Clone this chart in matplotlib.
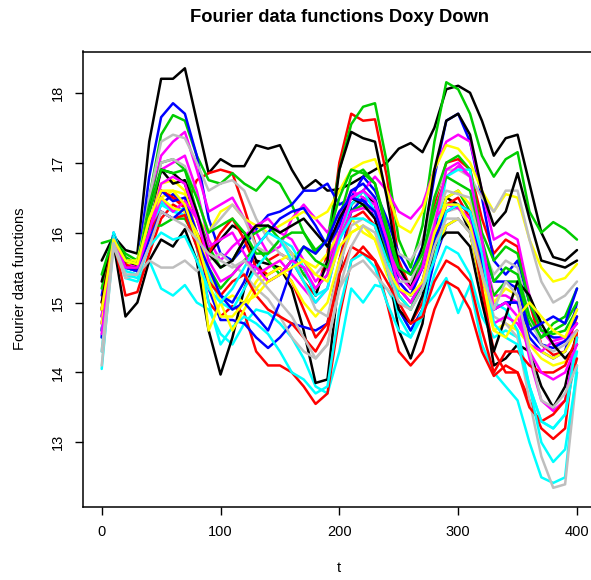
import matplotlib
matplotlib.use("Agg")
import matplotlib.pyplot as plt
import numpy as np

plt.rcParams["font.family"] = ["Liberation Sans", "DejaVu Sans"]

# argument grid (t) and the evaluated curves
t_grid = list(range(0, 401, 10))

palette = ["#000000", "#FF0000", "#00CD00", "#0000FF",
           "#00FFFF", "#FF00FF", "#FFFF00", "#BEBEBE"]

c00 = [15.6, 15.95, 15.75, 15.7, 17.3, 18.2, 18.2, 18.35, 17.6, 16.85, 17.05, 16.95, 16.95, 17.25, 17.2, 17.25, 16.9, 16.62, 16.75, 16.6, 16.62, 16.7, 16.8, 16.9, 17.0, 17.2, 17.28, 17.15, 17.5, 18.05, 18.1, 18.0, 17.6, 17.1, 17.35, 17.4, 16.7, 16.0, 15.65, 15.6, 15.75]
c01 = [14.9, 15.95, 15.5, 15.45, 16.0, 16.6, 16.5, 16.35, 16.75, 16.85, 16.9, 16.85, 16.35, 15.8, 15.6, 15.7, 15.6, 15.3, 15.1, 15.7, 17.0, 17.7, 17.6, 17.62, 16.8, 15.6, 15.2, 15.5, 16.4, 17.0, 17.05, 16.9, 16.2, 15.7, 15.9, 15.8, 15.0, 14.4, 14.25, 14.3, 14.8]
c02 = [15.85, 15.9, 15.7, 15.6, 16.5, 17.4, 17.68, 17.6, 17.1, 16.75, 16.7, 16.85, 16.7, 16.6, 16.8, 16.7, 16.4, 16.0, 15.75, 15.9, 16.9, 17.55, 17.8, 17.85, 17.0, 15.9, 15.5, 16.1, 17.3, 18.15, 18.05, 17.7, 17.1, 16.8, 17.05, 17.15, 16.3, 16.0, 16.15, 16.05, 15.9]
c03 = [15.1, 16.0, 15.55, 15.5, 16.8, 17.65, 17.85, 17.7, 17.1, 16.2, 15.7, 15.6, 15.8, 16.05, 16.25, 16.3, 16.4, 16.6, 16.6, 16.7, 16.4, 16.5, 16.8, 16.6, 16.2, 15.7, 15.4, 15.8, 16.8, 17.6, 17.7, 17.3, 16.5, 15.6, 15.4, 15.6, 15.0, 14.6, 14.5, 14.5, 14.7]
c04 = [14.05, 15.85, 15.35, 15.3, 15.6, 15.2, 15.1, 15.25, 15.0, 14.9, 14.55, 14.4, 14.7, 14.9, 14.85, 14.7, 14.5, 14.2, 13.8, 13.7, 14.3, 15.2, 15.0, 15.25, 15.2, 14.9, 14.6, 14.9, 15.1, 15.35, 14.85, 15.25, 14.4, 14.0, 13.8, 13.6, 13.0, 12.5, 12.42, 12.5, 14.1]
c05 = [14.6, 15.9, 15.55, 15.5, 16.4, 17.1, 17.3, 17.44, 16.9, 16.3, 16.4, 16.5, 16.2, 16.0, 15.7, 15.8, 16.2, 16.4, 16.2, 16.0, 16.3, 16.5, 16.6, 16.8, 16.6, 16.3, 16.2, 16.4, 16.9, 17.3, 17.4, 17.3, 16.6, 15.9, 16.0, 15.9, 15.1, 14.6, 14.4, 14.45, 14.6]
c06 = [14.8, 15.9, 15.6, 15.5, 16.2, 16.5, 16.6, 16.55, 16.2, 16.0, 16.3, 16.4, 16.2, 16.1, 16.0, 16.1, 16.2, 16.3, 16.2, 16.3, 16.6, 16.9, 17.0, 17.05, 16.6, 16.1, 16.0, 16.3, 16.9, 17.25, 17.2, 17.0, 16.6, 16.3, 16.55, 16.5, 15.9, 15.5, 15.3, 15.35, 15.55]
c07 = [14.9, 15.95, 15.6, 15.5, 16.5, 17.3, 17.4, 17.35, 17.0, 16.6, 16.7, 16.75, 16.6, 16.2, 15.9, 15.7, 15.6, 15.5, 15.4, 15.6, 16.0, 16.4, 16.5, 16.4, 16.0, 15.7, 15.6, 15.9, 16.5, 16.9, 16.9, 16.8, 16.5, 16.3, 16.6, 16.6, 15.9, 15.3, 15.0, 15.1, 15.3]
c08 = [14.7, 15.85, 14.8, 15.0, 15.6, 15.9, 15.8, 16.05, 15.6, 14.6, 13.97, 14.5, 15.2, 15.6, 15.55, 15.5, 15.2, 14.6, 13.85, 13.9, 15.4, 16.4, 16.6, 16.4, 15.6, 14.6, 14.2, 14.7, 15.9, 16.5, 16.4, 16.0, 15.2, 14.1, 14.2, 14.4, 14.3, 13.8, 13.5, 13.8, 14.6]
c09 = [14.6, 15.9, 15.1, 15.15, 15.7, 16.2, 16.4, 16.3, 15.8, 15.0, 14.8, 14.95, 14.85, 14.3, 14.1, 14.1, 14.0, 13.8, 13.55, 13.7, 14.8, 15.6, 15.8, 15.6, 15.0, 14.3, 14.1, 14.3, 14.9, 15.3, 15.2, 14.9, 14.3, 13.95, 14.1, 14.0, 13.6, 13.2, 13.05, 13.2, 14.6]
c10 = [15.2, 15.95, 15.65, 15.55, 16.4, 17.0, 17.05, 16.9, 16.3, 15.8, 15.5, 15.6, 15.9, 16.0, 16.1, 15.9, 15.7, 15.4, 15.2, 15.4, 16.2, 16.8, 16.9, 16.7, 16.0, 15.4, 15.2, 15.6, 16.5, 17.0, 17.1, 16.9, 16.0, 15.6, 15.8, 15.7, 15.0, 14.6, 14.55, 14.6, 14.9]
c11 = [14.8, 15.95, 15.5, 15.45, 16.0, 16.4, 16.55, 16.4, 15.9, 15.2, 14.75, 14.75, 14.7, 14.5, 14.35, 14.5, 14.7, 14.65, 14.6, 14.7, 15.6, 16.3, 16.5, 16.2, 15.6, 14.9, 14.6, 14.9, 15.6, 16.1, 16.2, 16.0, 15.3, 14.9, 15.0, 15.0, 14.5, 14.3, 14.2, 14.3, 15.0]
c12 = [14.5, 16.0, 15.45, 15.4, 15.9, 16.45, 16.3, 16.35, 15.8, 15.0, 14.4, 14.65, 14.8, 14.7, 14.55, 14.3, 14.0, 13.9, 13.7, 13.8, 14.9, 15.6, 15.7, 15.5, 15.0, 14.6, 14.5, 14.8, 15.4, 15.8, 15.7, 15.4, 14.8, 14.5, 14.6, 14.5, 13.8, 13.3, 13.2, 13.4, 14.3]
c13 = [14.7, 15.9, 15.6, 15.5, 16.1, 16.9, 17.0, 17.1, 16.6, 15.9, 15.6, 15.8, 15.95, 16.1, 16.2, 16.0, 15.9, 15.6, 15.3, 15.5, 16.2, 16.6, 16.5, 16.4, 15.8, 15.3, 15.1, 15.5, 16.3, 16.8, 16.95, 16.8, 15.8, 15.1, 15.1, 15.0, 14.2, 13.6, 13.45, 13.6, 14.5]
c14 = [14.9, 15.9, 15.6, 15.6, 16.3, 16.7, 16.75, 16.6, 16.0, 14.6, 15.0, 15.1, 15.0, 15.3, 15.5, 15.6, 15.7, 15.6, 15.5, 15.7, 16.0, 16.2, 16.0, 15.9, 15.4, 15.1, 14.9, 15.2, 15.7, 16.1, 16.2, 16.0, 15.2, 14.6, 14.7, 14.6, 14.4, 14.3, 14.2, 14.3, 14.6]
c15 = [14.1, 15.8, 15.35, 15.4, 15.6, 15.5, 15.5, 15.6, 15.45, 15.6, 15.7, 15.55, 15.4, 15.2, 15.05, 14.8, 14.5, 14.3, 14.2, 14.4, 15.2, 15.5, 15.6, 15.4, 15.2, 15.0, 14.9, 15.2, 15.9, 16.3, 16.35, 16.1, 15.5, 14.8, 14.7, 14.5, 13.6, 12.8, 12.35, 12.4, 14.0]
c16 = [15.3, 15.95, 15.6, 15.5, 16.2, 16.9, 16.85, 16.7, 16.2, 15.7, 15.9, 16.1, 16.0, 15.6, 15.3, 15.4, 15.6, 15.5, 15.1, 15.6, 16.9, 17.44, 17.35, 17.3, 16.5, 15.5, 15.2, 15.8, 16.9, 17.6, 17.7, 17.4, 16.6, 16.1, 16.3, 16.85, 16.2, 15.6, 15.55, 15.5, 15.6]
c17 = [15.0, 15.95, 15.55, 15.5, 16.1, 16.6, 16.5, 16.4, 16.0, 15.7, 16.0, 16.2, 15.9, 15.5, 15.4, 15.5, 15.3, 14.9, 14.5, 14.7, 15.6, 16.2, 16.3, 16.1, 15.5, 14.9, 14.7, 15.0, 15.8, 16.4, 16.5, 16.2, 15.2, 14.3, 14.0, 14.0, 13.5, 13.3, 13.4, 13.6, 14.2]
c18 = [14.9, 15.9, 15.5, 15.5, 16.1, 16.1, 16.2, 16.2, 15.9, 15.5, 15.2, 15.4, 15.6, 15.8, 15.6, 15.4, 15.6, 15.8, 15.6, 15.5, 15.9, 16.3, 16.4, 16.3, 15.7, 15.1, 14.9, 15.3, 16.0, 16.5, 16.6, 16.3, 15.6, 15.1, 15.3, 15.3, 14.7, 14.5, 14.7, 14.8, 15.2]
c19 = [14.6, 15.95, 15.5, 15.45, 16.0, 16.6, 16.45, 16.5, 16.0, 15.3, 15.1, 15.0, 15.3, 15.8, 16.0, 16.2, 16.3, 16.35, 16.1, 15.8, 16.1, 16.6, 16.7, 16.5, 15.9, 15.3, 15.1, 15.5, 16.1, 16.4, 16.4, 16.3, 15.8, 15.3, 15.3, 15.2, 14.6, 14.4, 14.35, 14.45, 14.8]
c20 = [14.6, 16.0, 15.5, 15.45, 16.0, 16.4, 16.3, 16.25, 16.0, 15.4, 15.0, 14.9, 15.2, 15.5, 15.7, 15.9, 15.8, 15.5, 15.1, 15.2, 16.0, 16.4, 16.6, 16.3, 15.5, 14.8, 14.5, 14.9, 15.8, 16.8, 16.9, 16.9, 15.6, 15.0, 14.9, 14.6, 13.8, 13.0, 12.72, 12.9, 14.0]
c21 = [14.8, 15.9, 15.55, 15.5, 16.0, 16.5, 16.3, 16.45, 16.2, 15.8, 15.9, 16.0, 15.7, 15.4, 15.5, 15.6, 15.4, 15.2, 15.0, 15.2, 15.9, 16.3, 16.35, 16.3, 15.8, 15.4, 15.2, 15.5, 16.2, 16.4, 16.35, 16.2, 15.4, 14.7, 14.8, 14.7, 14.4, 14.3, 14.45, 14.5, 14.7]
c22 = [14.7, 15.85, 15.55, 15.6, 16.2, 16.5, 16.35, 16.3, 16.0, 15.5, 15.0, 14.6, 14.9, 15.2, 15.4, 15.5, 15.3, 15.0, 14.8, 15.0, 15.6, 16.0, 16.1, 15.9, 15.5, 15.2, 15.0, 15.3, 15.9, 16.5, 16.6, 16.4, 15.6, 15.0, 15.2, 15.1, 14.4, 14.2, 14.1, 14.15, 14.4]
c23 = [14.5, 15.9, 15.5, 15.5, 16.2, 17.0, 17.05, 16.95, 16.5, 16.0, 16.2, 16.4, 16.2, 15.8, 15.7, 15.9, 15.7, 15.3, 14.9, 14.8, 15.5, 16.1, 16.2, 16.1, 15.6, 15.3, 15.3, 15.7, 16.2, 16.6, 16.55, 16.5, 15.8, 15.4, 15.6, 15.5, 14.8, 14.4, 14.3, 14.4, 14.6]
c24 = [15.0, 15.9, 15.5, 15.5, 16.3, 16.9, 16.7, 16.75, 16.3, 15.7, 15.5, 15.6, 15.9, 16.1, 16.1, 16.0, 16.1, 16.2, 16.0, 15.8, 16.2, 16.5, 16.4, 16.2, 15.6, 14.9, 14.7, 15.1, 15.8, 16.0, 16.0, 15.8, 15.0, 14.3, 14.8, 15.3, 15.1, 14.7, 14.4, 14.2, 14.4]
c25 = [14.9, 15.95, 15.55, 15.45, 16.0, 16.3, 16.2, 16.25, 15.8, 15.3, 15.1, 15.3, 15.4, 15.1, 14.9, 14.8, 14.7, 14.5, 14.3, 14.6, 15.4, 15.8, 15.7, 15.6, 15.3, 15.0, 14.7, 14.8, 15.3, 15.6, 15.5, 15.3, 14.6, 14.0, 14.3, 14.3, 14.1, 14.0, 14.0, 14.1, 14.5]
c26 = [15.4, 15.95, 15.6, 15.55, 16.3, 16.9, 16.85, 16.9, 16.5, 16.0, 16.1, 16.2, 16.0, 15.7, 15.7, 15.9, 16.0, 16.0, 15.7, 15.9, 16.5, 16.9, 16.85, 16.7, 16.1, 15.5, 15.4, 15.7, 16.3, 16.8, 16.7, 16.6, 15.9, 15.3, 15.5, 15.4, 14.8, 14.5, 14.6, 14.7, 15.0]
c27 = [14.5, 15.95, 15.5, 15.45, 15.9, 16.3, 16.2, 16.35, 15.9, 15.5, 15.1, 14.9, 15.0, 14.8, 14.6, 15.0, 15.5, 15.8, 15.7, 15.9, 16.3, 16.5, 16.45, 16.3, 15.8, 15.2, 15.0, 15.3, 15.9, 16.3, 16.4, 16.3, 15.6, 14.9, 15.0, 15.0, 14.6, 14.7, 14.8, 14.7, 15.2]
c28 = [14.3, 15.95, 15.4, 15.35, 15.8, 16.0, 15.9, 15.95, 15.6, 15.2, 15.0, 15.2, 15.5, 15.8, 16.0, 15.9, 15.6, 15.3, 15.0, 15.2, 15.9, 16.2, 16.2, 16.1, 15.6, 15.1, 14.9, 15.2, 15.6, 16.3, 16.4, 16.3, 15.7, 14.7, 14.5, 14.4, 13.8, 13.3, 13.2, 13.4, 14.5]
c29 = [14.55, 15.9, 15.5, 15.5, 16.0, 16.7, 16.8, 16.7, 16.2, 15.6, 15.3, 15.4, 15.6, 15.5, 15.3, 15.4, 15.6, 15.5, 15.2, 15.4, 16.0, 16.5, 16.6, 16.45, 15.9, 15.2, 15.0, 15.3, 16.1, 16.9, 17.0, 16.8, 15.9, 14.9, 15.0, 14.8, 14.3, 14.0, 13.9, 14.0, 14.4]
c30 = [14.9, 15.9, 15.6, 15.55, 16.2, 16.6, 16.6, 16.4, 15.9, 15.3, 14.8, 14.8, 15.0, 15.1, 15.3, 15.4, 15.5, 15.6, 15.4, 15.3, 15.8, 16.0, 16.1, 15.9, 15.5, 15.2, 15.1, 15.3, 16.0, 16.4, 16.4, 16.1, 15.4, 14.6, 14.5, 14.8, 15.0, 14.8, 14.6, 14.5, 14.9]
c31 = [14.3, 15.85, 15.4, 15.4, 15.8, 16.3, 16.2, 16.1, 15.9, 15.7, 15.6, 15.5, 15.6, 15.4, 15.2, 15.0, 14.8, 14.5, 14.2, 14.4, 15.2, 15.8, 16.1, 16.0, 15.5, 15.0, 14.9, 15.2, 15.8, 16.2, 16.2, 16.0, 15.4, 14.9, 15.3, 15.1, 14.3, 13.6, 13.5, 13.7, 14.1]

curves = [c00, c01, c02, c03, c04, c05, c06, c07, c08, c09, c10, c11, c12, c13, c14, c15,
          c16, c17, c18, c19, c20, c21, c22, c23, c24, c25, c26, c27, c28, c29, c30, c31]

W, H = 591, 580
fig = plt.figure(figsize=(W / 100, H / 100), dpi=100, facecolor="white")
# the plot box runs slightly past the right edge of the image, as in the original
ax = fig.add_axes([82.7 / W, 1 - 506.7 / H, (596 - 82.7) / W, (506.7 - 51.5) / H])

for i, vals in enumerate(curves):
    ax.plot(t_grid, vals, color=palette[i % len(palette)], linewidth=1.8,
            solid_joinstyle="round", solid_capstyle="round")

ax.set_xlim(-16, 416)
ax.set_ylim(12.08, 18.59)
ax.set_xticks([0, 100, 200, 300, 400])
ax.set_yticks([13, 14, 15, 16, 17, 18])
ax.tick_params(length=6, width=1.0, labelsize=10.5, pad=7)
for lab in ax.get_yticklabels():
    lab.set_rotation(90)
    lab.set_va("center")
for sp in ax.spines.values():
    sp.set_linewidth(1.1)

fig.text(339 / W, 1 - 18 / H, "Fourier data functions Doxy Down",
         ha="center", va="center", fontsize=13.2, fontweight="bold")
fig.text(339 / W, 1 - 568 / H, "t", ha="center", va="center", fontsize=10.5)
fig.text(20 / W, 1 - 279 / H, "Fourier data functions", ha="center", va="center",
         rotation=90, fontsize=10.5)

fig.savefig("out.png", dpi=100, facecolor="white")
